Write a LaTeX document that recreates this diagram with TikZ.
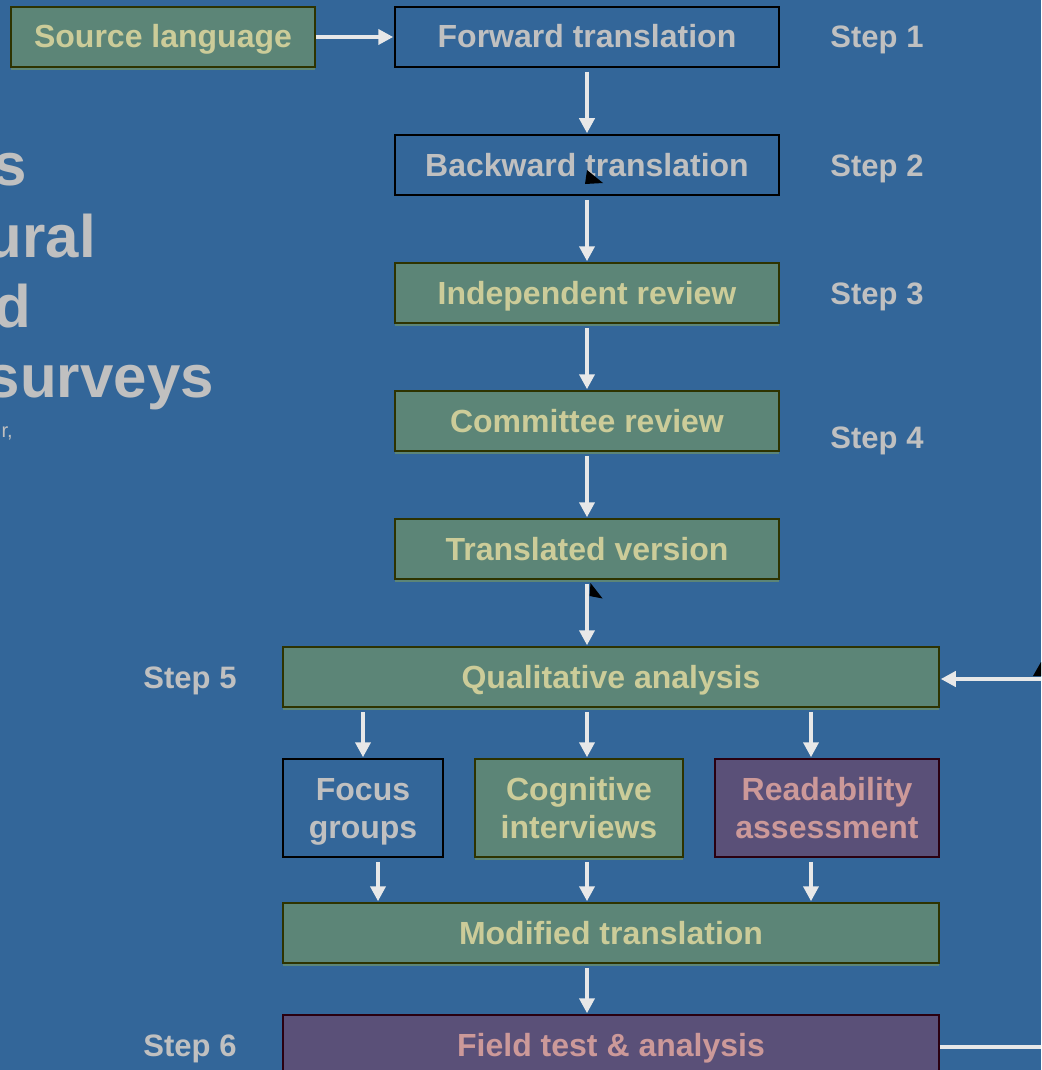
\documentclass[tikz,border=0pt]{standalone}
\usepackage{fontspec}
\setmainfont{Liberation Sans}
\usetikzlibrary{arrows.meta}
\definecolor{bg}{HTML}{336699}
\definecolor{boxgreen}{HTML}{5C8577}
\definecolor{greenedge}{HTML}{2E3300}
\definecolor{boxpurple}{HTML}{5A5078}
\definecolor{purpedge}{HTML}{2A0010}
\definecolor{txtyellow}{HTML}{CCCC99}
\definecolor{txtgrey}{HTML}{C0C0C0}
\definecolor{txtpink}{HTML}{CC9999}
\definecolor{arrowc}{HTML}{E8E8E8}
\tikzset{
  box/.style={line width=1.5pt, minimum height=60pt, inner sep=0pt, align=center,
    font=\bfseries\fontsize{32}{38}\selectfont},
  oneline/.style={text height=22pt, text depth=0pt},
  gbox/.style={box, fill=boxgreen, draw=greenedge, text=txtyellow,
    preaction={fill=boxgreen, transform canvas={yshift=-3pt}}},
  bbox/.style={box, fill=bg, draw=black, text=txtgrey},
  pbox/.style={box, fill=boxpurple, draw=purpedge, text=txtpink},
  steplabel/.style={text=txtgrey, inner sep=0pt, oneline, font=\bfseries\fontsize{31}{38}\selectfont},
  titleline/.style={text=txtgrey, inner sep=0pt, anchor=base east, font=\bfseries\fontsize{60}{70}\selectfont},
  arr/.style={draw=arrowc, line width=4pt, shorten <=4pt, shorten >=1pt,
    -{Triangle[length=15pt,width=15pt]}},
  plainline/.style={draw=arrowc, line width=4pt},
}
\begin{document}
\begin{tikzpicture}[x=1pt,y=-1pt]
\clip (0,0) rectangle (1041,1070);
\fill[bg] (0,0) rectangle (1041,1070);

% partial title on the left (cut by the left edge, as in the reference)
\node[titleline] (t1) at (27,185) {s};
\node[titleline] (t2) at (96,257) {ural};
\node[titleline] (t3) at (31,327) {d};
\node[titleline] (t4) at (214,397) {surveys};
\node[text=txtgrey, inner sep=0pt, anchor=base east, font=\fontsize{20}{24}\selectfont] (t5) at (13,437) {r,};

% boxes
\node[gbox, oneline, minimum width=304pt] (sl) at (163,37) {Source language};
\node[bbox, oneline, minimum width=384pt] (ft) at (587,37) {Forward translation};
\node[bbox, oneline, minimum width=384pt] (bt) at (587,165) {Backward translation};
\node[gbox, oneline, minimum width=384pt] (ir) at (587,293) {Independent review};
\node[gbox, oneline, minimum width=384pt] (cr) at (587,421) {Committee review};
\node[gbox, oneline, minimum width=384pt] (tv) at (587,549) {Translated version};
\node[gbox, oneline, minimum width=656pt] (qa) at (611,677) {Qualitative analysis};
\node[bbox, text depth=0pt, minimum width=160pt, minimum height=98pt] (fg) at (363,808) {Focus\\groups};
\node[gbox, minimum width=208pt, minimum height=98pt] (ci) at (579,808) {Cognitive\\interviews};
\node[pbox, minimum width=224pt, minimum height=98pt] (ra) at (827,808) {Readability\\assessment};
\node[gbox, oneline, minimum width=656pt] (mt) at (611,933) {Modified translation};
\node[pbox, oneline, minimum width=656pt] (fa) at (611,1045) {Field test \& analysis};

% step labels
\node[steplabel] (s1) at (877,37) {Step 1};
\node[steplabel] (s2) at (877,165) {Step 2};
\node[steplabel] (s3) at (877,293) {Step 3};
\node[steplabel] (s4) at (877,437) {Step 4};
\node[steplabel] (s5) at (190,677) {Step 5};
\node[steplabel] (s6) at (190,1045) {Step 6};

% connectors
\draw[arr, shorten <=0pt] (sl.east) -- (ft.west);
\draw[arr] (ft.south) -- (bt.north);
\draw[arr] (bt.south) -- (ir.north);
\draw[arr] (ir.south) -- (cr.north);
\draw[arr] (cr.south) -- (tv.north);
\draw[arr] (tv.south) -- (tv.south |- qa.north);
\draw[arr] (fg.north |- qa.south) -- (fg.north);
\draw[arr] (tv.south |- qa.south) -- (tv.south |- ci.north);
\draw[arr] ([xshift=-16pt]ra.north |- qa.south) -- ([xshift=-16pt]ra.north);
\draw[arr] ([xshift=15pt]fg.south) -- ([xshift=15pt]fg.south |- mt.north);
\draw[arr] (tv.south |- ci.south) -- (tv.south |- mt.north);
\draw[arr] ([xshift=-16pt]ra.south) -- ([xshift=-16pt]ra.south |- mt.north);
\draw[arr] (tv.south |- mt.south) -- (tv.south |- fa.north);
\coordinate (outR) at (1050,1047);
\coordinate (inR) at (1050,679);
\draw[plainline] (fa.east |- outR) -- (outR);
\draw[arr, shorten <=0pt] (inR) -- (qa.east |- inR);

% stray black arrowheads
\fill[black] (587,170) -- (585,184) -- (603,183) -- cycle;
\fill[black] (590.5,583) -- (589.6,596) -- (602.6,598.5) -- cycle;
\fill[black] (1033,676) -- (1041,662) -- (1041,676) -- cycle;
\end{tikzpicture}
\end{document}
